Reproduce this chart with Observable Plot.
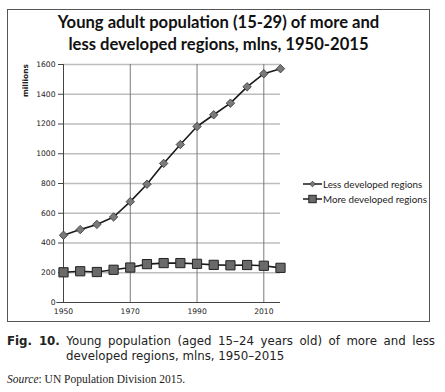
<!DOCTYPE html>
<html>
<head>
<meta charset="utf-8">
<script src="https://cdn.jsdelivr.net/npm/d3@7"></script>
<script src="https://cdn.jsdelivr.net/npm/@observablehq/plot@0.6"></script>
<style>
  html, body { margin: 0; padding: 0; background: #fff; }
  body { width: 445px; height: 392px; position: relative; overflow: hidden; }
  #box { position: absolute; left: 7px; top: 9px; width: 423px; height: 313px; border: 1px solid #555; box-sizing: border-box; }
  #title { position: absolute; left: 7px; top: 12px; width: 423px; text-align: center; font-family: Lato, sans-serif; font-weight: bold; font-size: 16.6px; line-height: 21.5px; color: #111; }
  #chart { position: absolute; left: 8px; top: 50px; }
  #ylabel { position: absolute; left: 21px; top: 64px; width: 10px; font-family: "DejaVu Sans", sans-serif; font-weight: bold; font-size: 7.5px; writing-mode: vertical-rl; transform: rotate(180deg); color: #222; }
  #legend { position: absolute; left: 303px; top: 176px; font-family: Lato, sans-serif; font-size: 9.8px; color: #222; }
  #legend div { display: flex; align-items: center; height: 15px; }
  #legend svg { margin-right: 1px; }
  #caption { position: absolute; left: 7px; top: 334px; width: 428px; font-family: "DejaVu Sans", Verdana, sans-serif; font-size: 11.8px; line-height: 14.5px; color: #222; }
  #caption .l1 { display: block; text-align: justify; text-align-last: justify; }
  #caption .l2 { display: block; padding-left: 59px; }
  #source { position: absolute; left: 7px; top: 373px; font-family: "Liberation Serif", serif; font-size: 11.5px; color: #222; }
</style>
</head>
<body>
<div id="box"></div>
<div id="title">Young adult population (15-29) of more and<br>less developed regions, mlns, 1950-2015</div>
<div id="ylabel">millions</div>
<div id="chart"></div>
<div id="legend"></div>
<div id="caption"><span class="l1"><b>Fig. 10.</b> Young population (aged 15–24 years old) of more and less</span><span class="l2">developed regions, mlns, 1950–2015</span></div>
<div id="source"><i>Source</i>: UN Population Division 2015.</div>
<script>
const years = [1950, 1955, 1960, 1965, 1970, 1975, 1980, 1985, 1990, 1995, 2000, 2005, 2010, 2015];
const lessDeveloped = [452, 490, 525, 575, 678, 795, 935, 1062, 1183, 1262, 1340, 1450, 1538, 1572];
const moreDeveloped = [203, 210, 205, 220, 235, 258, 265, 265, 260, 253, 250, 252, 247, 233];
const yTicks = [0, 200, 400, 600, 800, 1000, 1200, 1400, 1600];
const xTicks = [1950, 1970, 1990, 2010];
const seriesNames = ["Less developed regions", "More developed regions"];

const less = years.map((y, i) => ({year: y, value: lessDeveloped[i]}));
const more = years.map((y, i) => ({year: y, value: moreDeveloped[i]}));

const chart = Plot.plot({
  width: 282,
  height: 274,
  marginLeft: 55,
  marginRight: 10,
  marginTop: 14,
  marginBottom: 22,
  style: {fontFamily: "'DejaVu Sans', Verdana, sans-serif", fontSize: "7.6px", color: "#222", background: "transparent"},
  x: {domain: [1950, 2015], label: null},
  y: {domain: [0, 1600], label: null},
  marks: [
    Plot.ruleY(yTicks.filter(d => d > 0), {stroke: "#bdbdbd", strokeWidth: 1.3}),
    Plot.ruleX(xTicks.filter(d => d > 1950), {stroke: "#7a7a7a", strokeWidth: 1}),
    Plot.ruleX([1950], {stroke: "#444", strokeWidth: 1}),
    Plot.ruleY([0], {stroke: "#444", strokeWidth: 1, x1: 1948, x2: 2015}),
    Plot.axisX({ticks: xTicks, tickFormat: d => String(d), tickSize: 0, tickPadding: 6}),
    Plot.axisY({ticks: yTicks, tickFormat: d => String(d), tickSize: 5, tickPadding: 3, stroke: "#444"}),
    Plot.line(less, {x: "year", y: "value", stroke: "#1a1a1a", strokeWidth: 1.6}),
    Plot.line(more, {x: "year", y: "value", stroke: "#1a1a1a", strokeWidth: 1.6}),
    Plot.dot(less, {x: "year", y: "value", symbol: "diamond2", r: 3.8, fill: "#7a7a7a", stroke: "#333", strokeWidth: 0.8}),
    Plot.dot(more, {x: "year", y: "value", symbol: "square", r: 5.2, fill: "#6a6a6a", stroke: "#222", strokeWidth: 1})
  ]
});
document.getElementById("chart").appendChild(chart);

const legend = document.getElementById("legend");
const markers = [
  '<svg width="19" height="10"><line x1="0" y1="5" x2="19" y2="5" stroke="#1a1a1a" stroke-width="1.5"/><path d="M9.5,2.2 L12.3,5 L9.5,7.8 L6.7,5 Z" fill="#7a7a7a" stroke="#333" stroke-width="0.8"/></svg>',
  '<svg width="19" height="10"><line x1="0" y1="5" x2="19" y2="5" stroke="#1a1a1a" stroke-width="1.5"/><rect x="5.8" y="1.3" width="7.4" height="7.4" fill="#6a6a6a" stroke="#222" stroke-width="1"/></svg>'
];
seriesNames.forEach((name, i) => {
  const row = document.createElement("div");
  row.innerHTML = markers[i] + "<span>" + name + "</span>";
  legend.appendChild(row);
});
</script>
</body>
</html>
